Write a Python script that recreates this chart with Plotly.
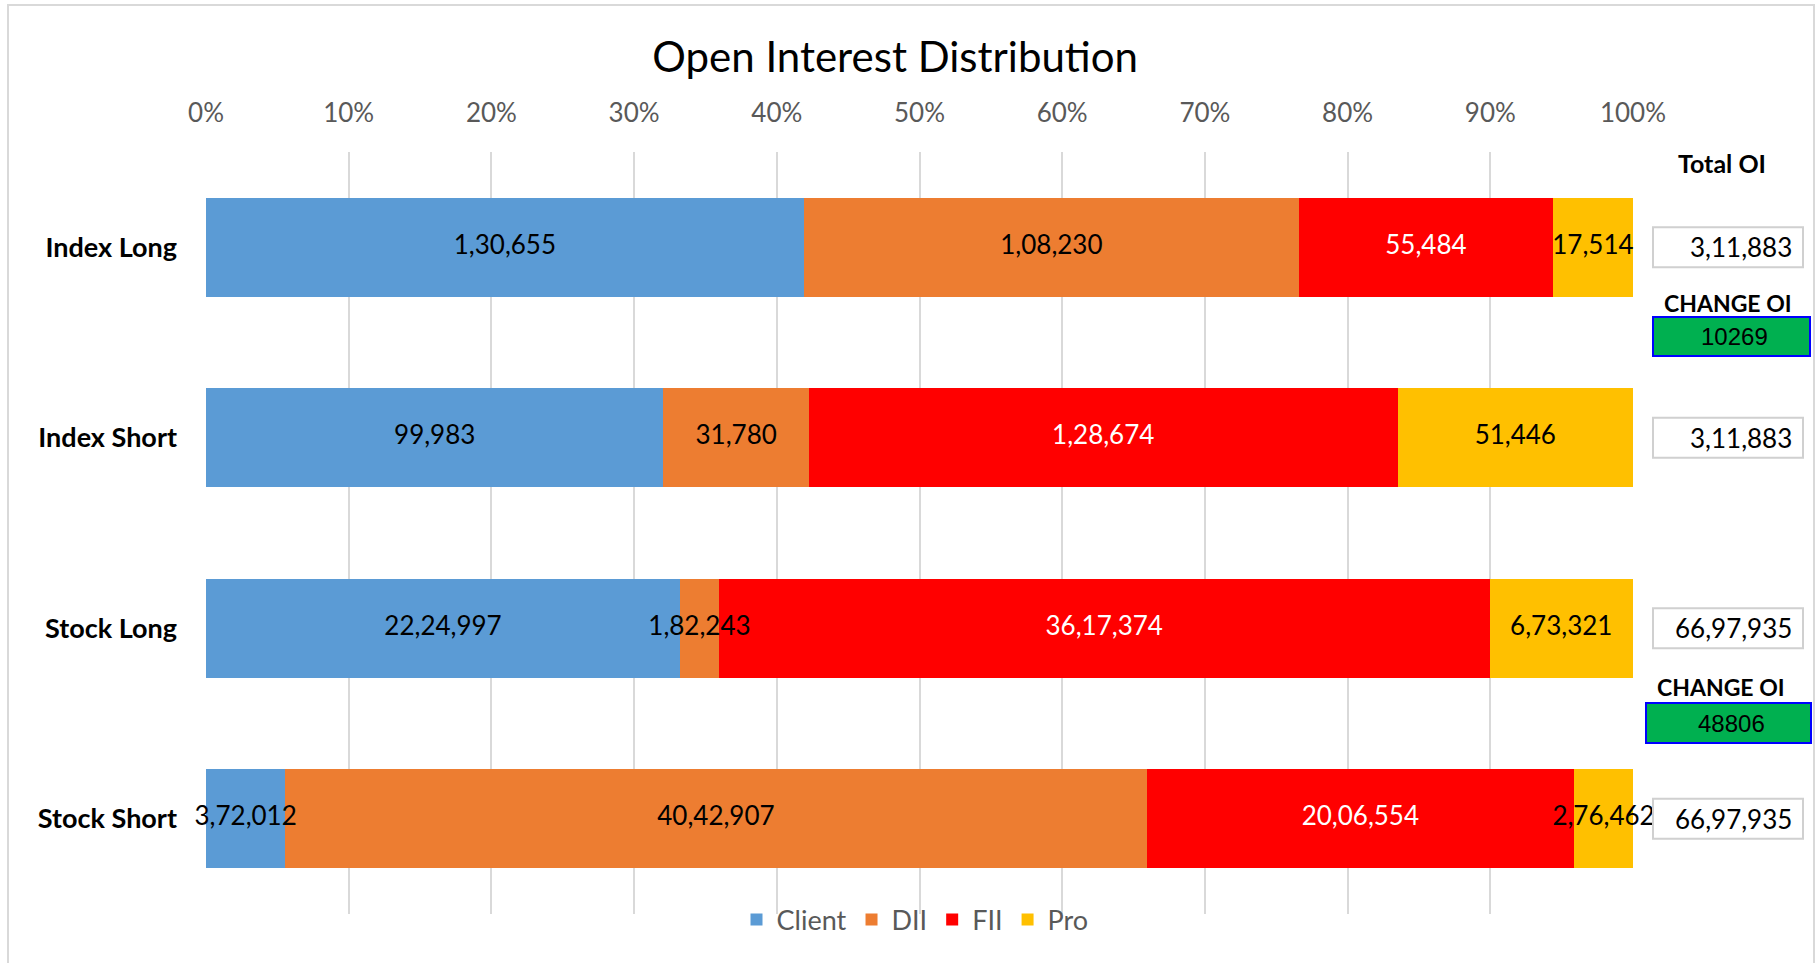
"""Open Interest Distribution - 100% stacked horizontal bar chart."""

import plotly.graph_objects as go

categories = ["Index Long", "Index Short", "Stock Long", "Stock Short"]
client = [130655, 99983, 2224997, 372012]
dii = [108230, 31780, 182243, 4042907]
fii = [55484, 128674, 3617374, 2006554]
pro = [17514, 51446, 673321, 276462]
change_oi = [10269, 48806]


def fmt_in(n):
    """Indian digit grouping: 6697935 -> 66,97,935."""
    s = str(int(n))
    if len(s) <= 3:
        return s
    head, tail = s[:-3], s[-3:]
    groups = []
    while len(head) > 2:
        groups.insert(0, head[-2:])
        head = head[:-2]
    if head:
        groups.insert(0, head)
    return ",".join(groups) + "," + tail


FONT = "Lato, 'Open Sans', sans-serif"
W, H = 1817, 963
L, R, T, B = 206, 1633, 152, 914


def px(x):
    return (x - L) / (R - L)


def py(y):
    return (B - y) / (B - T)


series = [
    ("Client", client, "#5b9bd5", "black"),
    ("DII", dii, "#ed7d31", "black"),
    ("FII", fii, "#ff0000", "white"),
    ("Pro", pro, "#ffc000", "black"),
]

totals = [c + d + f + p for c, d, f, p in zip(client, dii, fii, pro)]

fig = go.Figure()
for name, vals, color, tcolor in series:
    fig.add_trace(go.Bar(
        y=categories,
        x=vals,
        name=name,
        orientation="h",
        marker=dict(color=color, line=dict(width=0)),
        textposition="none",
        customdata=[fmt_in(v) for v in vals],
        hovertemplate="%{y}<br>" + name + ": %{customdata}<extra></extra>",
    ))

# segment labels drawn on top so they can overflow like in Excel
cum = [0.0] * len(categories)
for name, vals, color, tcolor in series:
    mids = []
    for i, v in enumerate(vals):
        share = 100 * v / totals[i]
        mids.append(cum[i] + share / 2)
        cum[i] += share
    fig.add_trace(go.Scatter(
        x=mids,
        y=categories,
        mode="text",
        text=[fmt_in(v) for v in vals],
        textposition="middle center",
        textfont=dict(family=FONT, size=26, color=tcolor),
        cliponaxis=False,
        showlegend=False,
        hoverinfo="skip",
    ))

shapes = []
annotations = []

# outer chart border
shapes.append(dict(
    type="rect", xref="paper", yref="paper",
    x0=px(8), x1=px(1814), y0=py(5), y1=py(990),
    line=dict(color="#d9d9d9", width=2), layer="below",
))

# Total OI column
annotations.append(dict(
    text="<b>Total OI</b>", xref="paper", yref="paper",
    x=px(1722), y=py(163), xanchor="center", yanchor="middle", showarrow=False,
    font=dict(family=FONT, size=25, color="black"),
))
for i, tot in enumerate(totals):
    shapes.append(dict(
        type="rect", xref="paper", yref="y",
        x0=px(1653), x1=px(1803), y0=i - 0.105, y1=i + 0.105,
        line=dict(color="#d0d0d0", width=2), fillcolor="white",
    ))
    annotations.append(dict(
        text=fmt_in(tot), xref="paper", yref="y",
        x=px(1794), y=i, xanchor="right", yanchor="middle", showarrow=False,
        font=dict(family=FONT, size=26, color="black"),
    ))

# Change OI boxes
change_pos = [
    (1728, 303, 1653, 1810, 317, 356),
    (1721, 687, 1646, 1811, 703, 743),
]
for val, (lx, ly, bx0, bx1, by0, by1) in zip(change_oi, change_pos):
    annotations.append(dict(
        text="<b>CHANGE OI</b>", xref="paper", yref="paper",
        x=px(lx), y=py(ly), xanchor="center", yanchor="middle", showarrow=False,
        font=dict(family=FONT, size=23, color="black"),
    ))
    shapes.append(dict(
        type="rect", xref="paper", yref="paper",
        x0=px(bx0), x1=px(bx1), y0=py(by1), y1=py(by0),
        line=dict(color="#0000ff", width=2), fillcolor="#00b050",
    ))
    annotations.append(dict(
        text=str(val), xref="paper", yref="paper",
        x=px((bx0 + bx1) / 2 + 3), y=py((by0 + by1) / 2),
        xanchor="center", yanchor="middle", showarrow=False,
        font=dict(family="'Liberation Sans', Arial, sans-serif", size=24, color="black"),
    ))

fig.update_layout(
    barmode="stack",
    barnorm="percent",
    bargap=0.48,
    width=W,
    height=H,
    paper_bgcolor="white",
    plot_bgcolor="white",
    margin=dict(l=L, r=W - R, t=T, b=H - B, autoexpand=False),
    title=dict(
        text="Open Interest Distribution",
        x=px(909), xanchor="center",
        y=1 - 57 / H, yanchor="middle",
        font=dict(family=FONT, size=42, color="black"),
    ),
    font=dict(family=FONT),
    xaxis=dict(
        side="top",
        range=[0, 100],
        tickmode="linear", tick0=0, dtick=10,
        ticksuffix="%",
        showgrid=True, gridcolor="#d9d9d9", gridwidth=2,
        zeroline=False, showline=False,
        ticks="", ticklabelstandoff=24,
        tickfont=dict(family=FONT, size=26, color="#595959"),
        fixedrange=True,
    ),
    yaxis=dict(
        categoryorder="array",
        categoryarray=categories,
        autorange="reversed",
        showgrid=False, zeroline=False, showline=False,
        ticks="", ticklabelstandoff=28,
        tickfont=dict(family=FONT, size=27, color="black", weight="bold"),
        fixedrange=True,
    ),
    legend=dict(
        orientation="h",
        traceorder="normal",
        x=px(915), xanchor="center",
        y=py(920), yanchor="middle",
        font=dict(family=FONT, size=27, color="#595959"),
        bgcolor="rgba(0,0,0,0)",
        itemwidth=30,
    ),
    shapes=shapes,
    annotations=annotations,
)

fig.write_html(
    "out.html",
    config={"displayModeBar": False},
    post_script="document.body.style.margin = '0';",
)
